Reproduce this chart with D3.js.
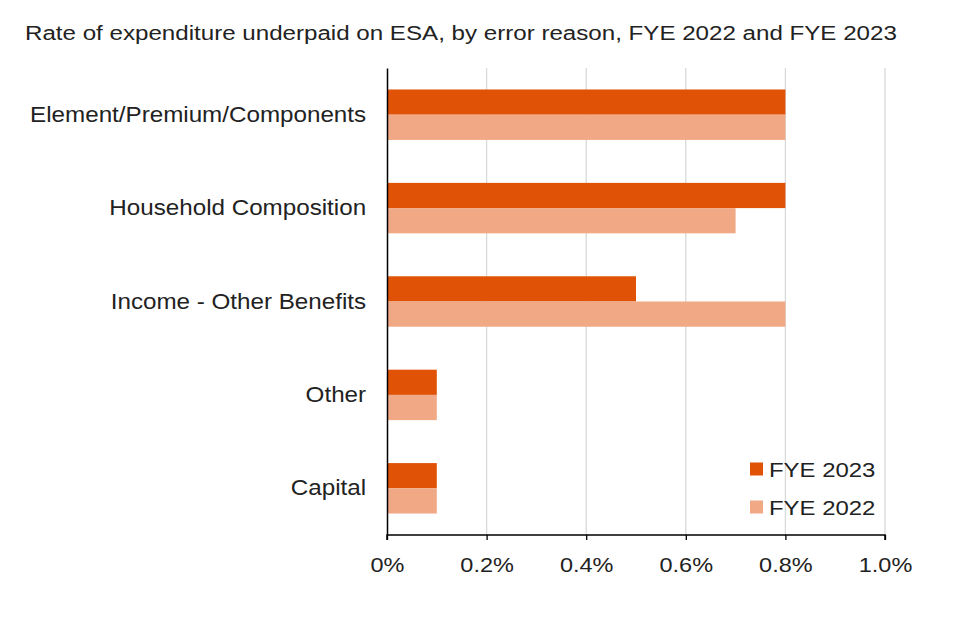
<!DOCTYPE html>
<html>
<head>
<meta charset="utf-8">
<script src="https://cdn.jsdelivr.net/npm/d3@7"></script>
<style>
    body { margin: 0; background: #fff; }
    svg { font-family: "Liberation Sans", Arial, sans-serif; }
</style>
</head>
<body>
<div id="chart"></div>
<script>
const categories = ["Element/Premium/Components", "Household Composition", "Income - Other Benefits", "Other", "Capital"];
const seriesNames = ["FYE 2023", "FYE 2022"];
const fye2023 = [0.8, 0.8, 0.5, 0.1, 0.1];
const fye2022 = [0.8, 0.7, 0.8, 0.1, 0.1];
const xTicks = [0, 0.2, 0.4, 0.6, 0.8, 1.0];
const xTickLabels = ["0%", "0.2%", "0.4%", "0.6%", "0.8%", "1.0%"];

const outerWidth = 960;
const outerHeight = 640;
const margin = {top: 68, right: 75, bottom: 105, left: 387};
const width = outerWidth - margin.left - margin.right;
const height = outerHeight - margin.top - margin.bottom;
const colors = ["#e05206", "#f0a885"];
const textColor = "#222";

const svg = d3.select("#chart")
    .append("svg")
    .attr("width", outerWidth)
    .attr("height", outerHeight);

// the reference text is a bit wide, so stretch it horizontally
svg.append("text")
    .attr("transform", "translate(25, 40) scale(1.15, 1)")
    .attr("font-size", 21)
    .attr("fill", textColor)
    .text("Rate of expenditure underpaid on ESA, by error reason, FYE 2022 and FYE 2023");

const plot = svg.append("g")
    .attr("transform", `translate(${margin.left}, ${margin.top})`);

const x = d3.scaleLinear().domain([0, 1.0]).range([0, width]);
const y = d3.scaleBand().domain(categories).range([0, height]).paddingInner(0.46).paddingOuter(0.23);
const ySeries = d3.scaleBand().domain(seriesNames).range([0, y.bandwidth()]);

plot.append("g")
    .selectAll("line")
    .data(xTicks.slice(1))
    .enter()
    .append("line")
    .attr("x1", (d) => x(d))
    .attr("x2", (d) => x(d))
    .attr("y1", 0)
    .attr("y2", height)
    .attr("stroke", "#d9d9d9")
    .attr("stroke-width", 1.3);

const rows = categories.map((c, i) => ({category: c, values: [fye2023[i], fye2022[i]]}));

const groups = plot.selectAll(".row")
    .data(rows)
    .enter()
    .append("g")
    .attr("transform", (d) => `translate(0, ${y(d.category)})`);

groups.selectAll("rect")
    .data((d) => d.values.map((v, i) => ({series: seriesNames[i], value: v, index: i})))
    .enter()
    .append("rect")
    .attr("x", 0)
    .attr("y", (d) => ySeries(d.series))
    .attr("width", (d) => x(d.value))
    .attr("height", ySeries.bandwidth())
    .attr("fill", (d) => colors[d.index]);

plot.append("g")
    .attr("transform", `translate(0, ${height})`)
    .call(d3.axisBottom(x).tickValues(xTicks).tickSize(5).tickPadding(17)
        .tickFormat((d, i) => xTickLabels[i]))
    .call((g) => g.select(".domain").attr("stroke", "#000").attr("stroke-width", 1.5).attr("d", `M0,5V0H${width}V5`))
    .call((g) => g.selectAll(".tick line").attr("stroke", "#000").attr("stroke-width", 1.3))
    .call((g) => g.selectAll("text")
        .attr("font-size", 21)
        .attr("fill", textColor)
        .attr("font-family", "Liberation Sans, Arial, sans-serif")
        .attr("transform", "scale(1.12, 1)"));

plot.append("g")
    .call(d3.axisLeft(y).tickSize(0).tickPadding(19))
    .call((g) => g.select(".domain").attr("stroke", "#000").attr("stroke-width", 1.5))
    .call((g) => g.selectAll("text")
        .attr("font-size", 22)
        .attr("fill", textColor)
        .attr("font-family", "Liberation Sans, Arial, sans-serif")
        .attr("transform", "scale(1.1, 1)"));

const legend = svg.append("g")
    .attr("transform", "translate(750, 469)");
seriesNames.forEach((name, i) => {
    const item = legend.append("g").attr("transform", `translate(0, ${i * 38})`);
    item.append("rect")
        .attr("x", 0)
        .attr("y", -6.5)
        .attr("width", 13)
        .attr("height", 13)
        .attr("fill", colors[i]);
    item.append("text")
        .attr("transform", "translate(19, 7.5) scale(1.14, 1)")
        .attr("font-size", 21)
        .attr("fill", textColor)
        .text(name);
});
</script>
</body>
</html>
